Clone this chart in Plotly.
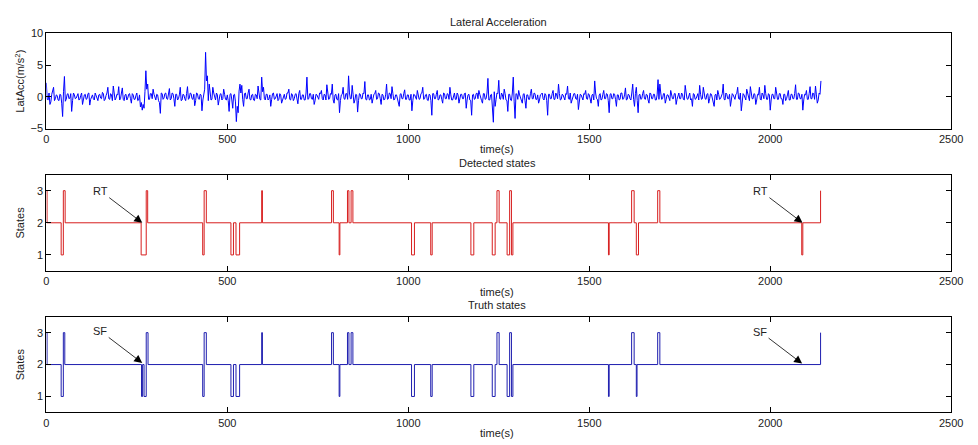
import plotly.graph_objects as go

# ---------------- data ----------------
# Lateral acceleration: main samples every 5 s (0 .. 2140 s)
acc_step = 5
lat_acc = [
    2.2, -0.5, -1.2, 0.4, 1.5, -0.3, 0.2, -0.6, 0.3, -3.1, 3.2, -0.4, 0.5, -0.2, -2.3, 0.6, -0.3, 0.4, -0.5, 0.2,
    -1.2, 0.3, -0.4, 0.5, -1.3, 0.2, -0.3, 0.6, -0.5, 0.3, -0.2, 0.7, -0.6, 0.2, 1.5, -0.4, 0.3, 1.7, -0.5, 0.4,
    1.6, -0.3, 1.4, -0.6, 0.4, -0.2, 0.5, -1.0, 0.3, -0.4, 0.6, -0.5, -1.6, -2.1, -1.8, 4.1, 2.0, -0.4, 0.5, 1.2,
    -0.3, 0.4, -0.6, -2.6, 0.5, -0.2, 0.6, -0.4, 1.3, -0.3, 0.5, -1.5, 0.4, -0.3, 1.5, -0.5, 0.3, -0.6, 1.6, -0.2,
    0.5, -0.4, -1.4, 0.6, -0.3, 0.4, -2.2, 0.8, 7.0, 3.3, 2.0, -0.5, 1.5, -0.3, 0.6, -1.3, 0.4, -0.5, 1.2, -0.4,
    0.3, -2.3, 0.5, -1.8, 0.4, -3.9, -2.5, 2.0, 1.8, -1.5, 0.6, -0.3, 1.2, -0.5, 0.4, -0.6, 0.3, 1.7, -0.4, 3.1,
    1.5, -0.5, 0.4, -0.3, -1.5, 0.5, -0.4, 0.3, -0.6, 0.5, -1.0, 0.3, -0.4, 0.6, 1.2, -0.5, 0.3, -0.3, 0.5, -1.1,
    1.0, -0.4, 0.3, -0.5, 3.1, -0.3, 0.5, -0.4, -1.2, 0.4, -0.3, 0.6, 1.0, -0.5, 0.3, 1.9, -0.4, 0.5, 2.0, -1.0,
    0.4, -0.5, -2.5, 0.3, 1.5, -0.4, 0.5, 3.3, -0.3, 1.8, -1.0, 0.4, -2.4, 0.5, -0.3, 0.6, 2.4, -0.5, 0.3, -0.4,
    -1.0, 0.4, 1.0, -0.3, 0.5, -1.2, 0.3, -0.4, 2.0, -0.3, 0.5, 1.6, -0.5, 0.3, -0.4, -1.5, 0.5, -0.3, 1.1, -0.4,
    0.3, -0.5, -2.2, 0.4, -0.3, 1.0, -0.4, 0.5, 1.5, -0.3, 0.4, -0.6, 0.3, -2.9, 0.5, -0.3, 1.0, -0.4, 0.3, -1.0,
    0.5, -0.3, 0.4, 1.5, -0.5, 0.3, -0.4, 0.6, -1.0, 0.4, -0.3, 0.5, -1.8, 0.3, -0.5, -2.9, 0.4, -0.3, 0.6, 1.0,
    -0.4, -1.0, 0.5, -0.3, 2.9, -0.5, 0.4, -4.0, -1.5, 0.6, 2.6, -0.4, 0.3, 1.2, -0.5, -2.3, 0.4, -0.6, 3.1, -3.4,
    0.4, 1.0, -0.3, -1.0, 0.5, -1.8, 0.3, -0.4, 1.2, -0.3, 0.5, -0.4, -1.0, 0.3, 0.6, -0.5, 0.3, -2.9, 0.4, -0.3,
    1.0, -0.4, 0.3, 2.0, -0.5, 0.4, -0.3, 0.5, 1.7, -0.4, -1.0, 0.3, 0.5, -0.4, -2.0, 0.4, -0.3, 0.5, 1.0, -0.4,
    0.3, -1.0, 0.4, 2.5, -0.3, -1.5, 0.5, -0.4, 1.0, -0.3, 0.4, -2.5, 0.5, -0.3, 0.4, -1.5, 0.3, -0.4, 0.6, -0.3,
    1.4, -0.4, 0.3, -0.5, 2.0, -1.5, 1.5, -2.5, 0.4, -0.3, 1.0, -0.4, 0.3, -1.0, 0.5, -0.3, 0.4, -0.5, 2.7, 2.0,
    -0.4, 0.5, -1.0, 0.3, -0.4, 1.0, -0.3, 0.5, -1.2, 0.4, -0.3, 0.6, -0.4, 1.8, -0.3, 0.4, -0.5, -1.5, 0.4, -0.3,
    0.5, 1.8, -0.4, 1.5, -0.3, 0.4, -1.0, 0.5, -0.3, -1.5, 0.4, 1.0, -0.4, 0.3, 2.0, -0.5, 0.4, -0.3, -1.5, 0.5,
    -0.3, 0.4, 1.5, -0.4, -2.2, 0.5, -0.3, 1.2, -0.4, 1.6, -0.3, 0.5, -1.2, 0.4, 1.5, -0.5, 0.3, 1.8, -0.4, 0.5,
    -2.1, 0.4, -0.3, 1.5, -0.4, 0.5, -0.3, -1.2, 0.4, -0.3, 1.0, -0.5, 0.4, -0.3, 1.9, -0.4, 0.5, -0.3, -2.1, 0.4,
    1.0, -0.4, 1.6, -0.3, 0.5, 1.7, -1.0, 0.6, 2.5,
]
# in-between samples (at t + 2.5 s), the dense band around zero
lat_acc_mid = [
    -0.4, 0.6, -0.8, 0.9, -0.6, 0.3, -0.5, 0.4, -1.0, 0.8, -0.7, 0.4, -0.3, 0.5, -0.6, 0.3, -0.2, 0.5, -0.4, 0.6,
    -0.5, 0.4, -0.3, 0.6, -0.4, 0.3, -0.5, 0.2, -0.6, 0.4, -0.3, 0.5, -0.4, 0.6, -0.3, 0.5, -0.6, 0.4, -0.2, 0.3,
    -0.5, 0.6, -0.4, 0.3, -0.5, 0.4, -0.3, 0.5, -0.4, 0.2, -0.6, 0.3, -0.9, -1.2, 0.8, 1.2, -0.4, 0.5, -0.3, 0.4,
    -0.5, 0.3, -0.9, 0.6, -0.4, 0.5, -0.3, 0.4, -0.5, 0.6, -0.3, 0.4, -0.5, 0.3, -0.6, 0.4, -0.3, 0.5, -0.4, 0.6,
    -0.3, 0.4, -0.6, 0.5, -0.4, 0.3, -0.5, 1.2, 2.5, -0.6, 0.8, -0.4, 0.6, -0.5, 0.3, -0.4, 0.5, -0.3, 0.4, -0.5,
    -0.6, 0.4, -0.5, 0.3, -0.8, -1.5, 0.9, 0.6, -0.4, 0.5, -0.3, 0.6, -0.4, 0.3, -0.5, 0.4, -0.3, 0.6, -0.5, 0.8,
    -0.3, 0.4, -0.5, 0.3, -0.4, 0.6, -0.3, 0.5, -0.4, 0.3, -0.5, 0.4, -0.3, 0.6, -0.4, 0.5, -0.6, 0.4, -0.3, 0.5,
    -0.4, 0.3, -0.5, 0.6, -0.4, 0.5, -0.3, 0.4, -0.6, 0.3, -0.4, 0.5, -0.3, 0.4, -0.5, 0.6, -0.3, 0.4, -0.5, 0.3,
    -0.4, 0.5, -0.6, 0.4, -0.3, 0.5, -0.4, 0.6, -0.3, 0.4, -0.5, 0.3, -0.6, 0.4, -0.3, 0.5, -0.4, 0.3, -0.5, 0.4,
    -0.3, 0.5, -0.4, 0.6, -0.3, 0.4, -0.5, 0.3, -0.4, 0.6, -0.3, 0.5, -0.4, 0.3, -0.6, 0.4, -0.3, 0.5, -0.4, 0.3,
    -0.5, 0.4, -0.6, 0.3, -0.4, 0.5, -0.3, 0.6, -0.4, 0.3, -0.5, 0.4, -0.6, 0.5, -0.3, 0.4, -0.5, 0.3, -0.4, 0.6,
    -0.3, 0.5, -0.4, 0.3, -0.5, 0.6, -0.4, 0.3, -0.5, 0.4, -0.3, 0.6, -0.5, 0.4, -0.6, 0.3, -0.4, 0.5, -0.3, 0.4,
    -0.6, 0.5, -0.4, 0.6, -0.5, 0.3, -1.2, 0.8, -0.4, 0.5, -0.3, 0.6, -0.4, 0.5, -0.6, 0.4, -0.5, 0.6, -0.8, 0.5,
    -0.4, 0.3, -0.5, 0.4, -0.6, 0.3, -0.4, 0.5, -0.3, 0.6, -0.4, 0.3, -0.5, 0.4, -0.3, 0.5, -0.6, 0.4, -0.3, 0.5,
    -0.4, 0.6, -0.3, 0.5, -0.4, 0.3, -0.5, 0.4, -0.3, 0.6, -0.4, 0.5, -0.3, 0.4, -0.6, 0.3, -0.5, 0.4, -0.3, 0.5,
    -0.4, 0.3, -0.5, 0.6, -0.4, 0.3, -0.5, 0.4, -0.3, 0.5, -0.6, 0.4, -0.3, 0.5, -0.4, 0.3, -0.5, 0.6, -0.4, 0.3,
    -0.5, 0.4, -0.3, 0.6, -0.4, 0.5, -0.6, 0.3, -0.4, 0.5, -0.3, 0.4, -0.5, 0.6, -0.3, 0.4, -0.5, 0.3, -0.4, 0.6,
    -0.3, 0.5, -0.4, 0.3, -0.6, 0.4, -0.3, 0.5, -0.4, 0.6, -0.3, 0.4, -0.5, 0.3, -0.4, 0.6, -0.3, 0.5, -0.4, 0.3,
    -0.5, 0.4, -0.3, 0.6, -0.4, 0.5, -0.3, 0.4, -0.6, 0.3, -0.5, 0.4, -0.3, 0.5, -0.4, 0.6, -0.3, 0.4, -0.5, 0.3,
    -0.4, 0.5, -0.3, 0.6, -0.4, 0.3, -0.5, 0.4, -0.6, 0.5, -0.3, 0.4, -0.5, 0.3, -0.4, 0.6, -0.3, 0.5, -0.4, 0.3,
    -0.5, 0.4, -0.3, 0.6, -0.4, 0.5, -0.3, 0.4, -0.6, 0.3, -0.5, 0.4, -0.3, 0.5, -0.4, 0.6, -0.3, 0.4, -0.5, 0.3,
    -0.4, 0.5, -0.3, 0.6, -0.4, 0.3, -0.5, 0.4,
]

# merge both sample sets into one time-ordered series
acc_pairs = [(i * acc_step, v) for i, v in enumerate(lat_acc)] + \
            [(i * acc_step + acc_step / 2, v) for i, v in enumerate(lat_acc_mid)]
acc_pairs.sort()
acc_time = [p[0] for p in acc_pairs]
acc_vals = [p[1] for p in acc_pairs]

# Detected states: change times (s) and state entered at that time
det_time = [0, 2, 41, 47, 52, 262, 276, 280, 432, 436, 442, 510, 517, 524, 534, 595, 597,
            788, 793, 809, 811, 832, 836, 842, 847, 1009, 1017, 1062, 1066, 1173, 1181,
            1232, 1240, 1245, 1251, 1273, 1280, 1285, 1289, 1553, 1555, 1617, 1624, 1630, 1636,
            1689, 1695, 2087, 2090, 2139]
det_state = [3, 2, 1, 3, 2, 1, 3, 2, 1, 3, 2, 1, 2, 1, 2, 3, 2,
             3, 2, 1, 2, 3, 2, 3, 2, 1, 2, 1, 2, 1, 2,
             1, 2, 3, 2, 1, 3, 1, 2, 1, 2, 3, 2, 1, 2,
             3, 2, 1, 2, 3]

# Truth states
tru_time = [0, 2, 41, 47, 51, 263, 266, 270, 276, 281, 432, 436, 442, 510, 517, 524, 534, 595, 597,
            788, 793, 809, 811, 832, 836, 842, 847, 1009, 1017, 1062, 1066, 1173, 1181,
            1232, 1240, 1245, 1251, 1273, 1280, 1285, 1289, 1553, 1555, 1617, 1624, 1630, 1632,
            1689, 1695, 2139]
tru_state = [3, 2, 1, 3, 2, 1, 2, 1, 3, 2, 1, 3, 2, 1, 2, 1, 2, 3, 2,
             3, 2, 1, 2, 3, 2, 3, 2, 1, 2, 1, 2, 1, 2,
             1, 2, 3, 2, 1, 3, 1, 2, 1, 2, 3, 2, 1, 2,
             3, 2, 3]

x_ticks = [0, 500, 1000, 1500, 2000, 2500]
acc_ticks = [-5, 0, 5, 10]
state_ticks = [1, 2, 3]

# annotations: (panel, label, time, state)
arrow_notes = [("y2", "RT", 265, 2.0), ("y2", "RT", 2089, 2.0),
               ("y3", "SF", 265, 2.05), ("y3", "SF", 2088, 2.03)]

# ---------------- figure ----------------
W, H = 978, 445
FONT = "Arial, Liberation Sans, Helvetica, sans-serif"

def px_y(y):
    return 1 - y / H

fig = go.Figure()
fig.add_trace(go.Scatter(x=acc_time, y=acc_vals, mode="lines",
                         line=dict(color="rgb(0,0,255)", width=1), xaxis="x", yaxis="y"))
fig.add_trace(go.Scatter(x=det_time, y=det_state, mode="lines", line_shape="hv",
                         line=dict(color="rgb(215,30,30)", width=1), xaxis="x2", yaxis="y2"))
fig.add_trace(go.Scatter(x=tru_time, y=tru_state, mode="lines", line_shape="hv",
                         line=dict(color="rgb(30,30,175)", width=1), xaxis="x3", yaxis="y3"))

x0, x1 = 44 / W, 963 / W
panels = [(28, 126), (173.3, 272.3), (319.3, 417.7)]

axis_common = dict(showline=True, linecolor="black", linewidth=1, mirror="allticks",
                   ticks="inside", ticklen=5, tickcolor="black", tickwidth=1,
                   showgrid=False, zeroline=False,
                   tickfont=dict(family=FONT, size=11, color="#222"))

layout = dict(width=W, height=H, margin=dict(l=0, r=0, t=0, b=0),
              paper_bgcolor="white", plot_bgcolor="white", showlegend=False,
              font=dict(family=FONT, size=11, color="#222"))

for i, (ytop, ybot) in enumerate(panels):
    sx = "" if i == 0 else str(i + 1)
    layout["xaxis" + sx] = dict(axis_common, domain=[x0, x1], range=[0, 2500],
                                tickvals=x_ticks, anchor="y" + sx)
    yd = dict(axis_common, domain=[px_y(ybot), px_y(ytop)], anchor="x" + sx)
    if i == 0:
        yd.update(range=[-5, 10], tickvals=acc_ticks)
    else:
        yd.update(range=[0.5, 3.5], tickvals=state_ticks)
    layout["yaxis" + sx] = yd

fig.update_layout(**layout)

texts = [
    ("Lateral Acceleration", 503, 16), ("time(s)", 502, 147),
    ("Detected states", 502, 161.5), ("time(s)", 502, 294),
    ("Truth states", 502, 307), ("time(s)", 502, 439),
]
for t, xp, yp in texts:
    fig.add_annotation(text=t, x=xp / W, y=px_y(yp), xref="paper", yref="paper",
                       showarrow=False, xanchor="center", yanchor="middle",
                       font=dict(family=FONT, size=11, color="#222"))

for t, yc in [("LatAcc(m/s<sup>2</sup>)", 77), ("States", 222.8), ("States", 368.5)]:
    fig.add_annotation(text=t, x=17 / W, y=px_y(yc), xref="paper", yref="paper",
                       showarrow=False, textangle=-90, xanchor="center", yanchor="middle",
                       font=dict(family=FONT, size=11, color="#222"))

for ax_name, lab, tx, sy in arrow_notes:
    xr = "x" + ax_name[1:]
    fig.add_annotation(text=lab, x=tx, y=sy, xref=xr, yref=ax_name,
                       showarrow=True, arrowhead=2, arrowsize=2.0, arrowwidth=0.8,
                       arrowcolor="black", ax=-42, ay=-32,
                       font=dict(family=FONT, size=11, color="#222"))

fig.write_html("out.html")
